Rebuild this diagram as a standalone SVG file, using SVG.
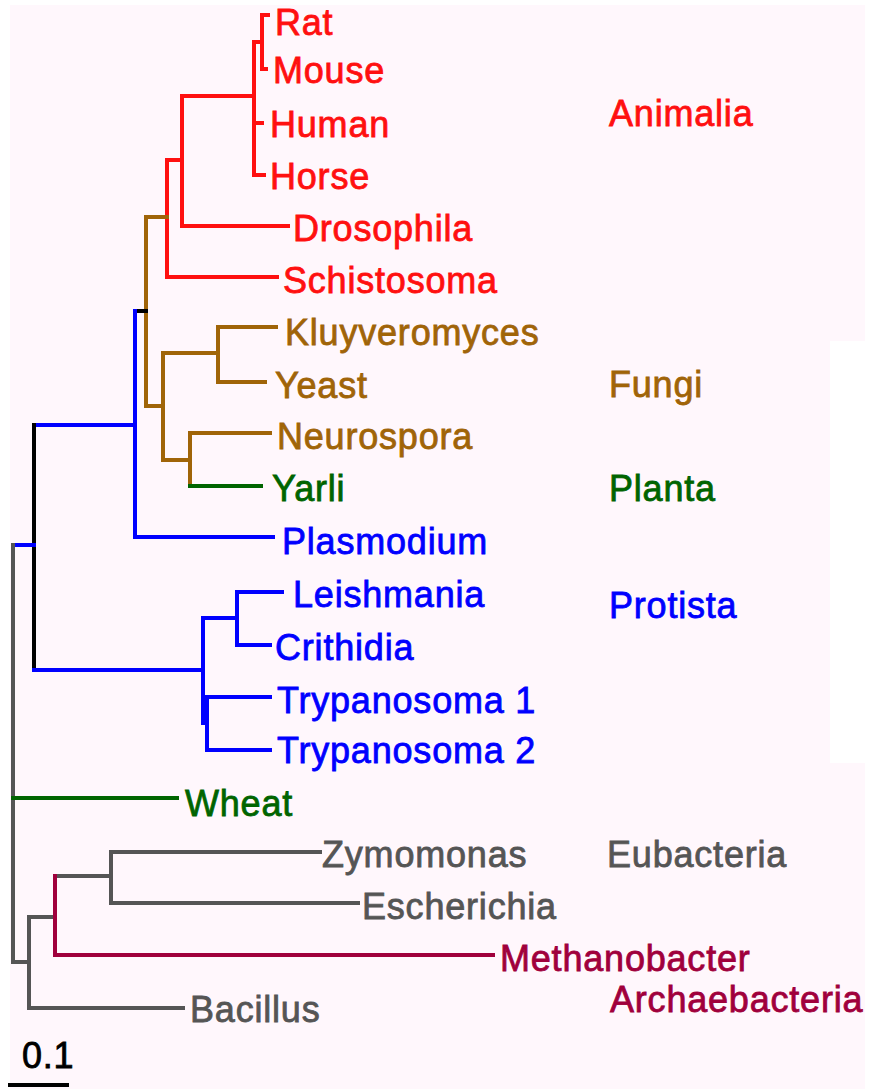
<svg xmlns="http://www.w3.org/2000/svg" width="873" height="1089" viewBox="0 0 873 1089">
<style>
text{font-family:"Liberation Sans",Arial,sans-serif;font-size:36px;letter-spacing:0.8px;stroke-width:0.8px}
.e{fill:none;stroke-width:4;stroke-linecap:square;stroke-linejoin:miter}
.r{stroke:#ff1010}.b{stroke:#a06408}.g{stroke:#006400}.u{stroke:#0000ff}.k{stroke:#000}.y{stroke:#555}.m{stroke:#a0003c}
.tr{fill:#ff1010;stroke:#ff1010}.tb{fill:#a06408;stroke:#a06408}.tg{fill:#006400;stroke:#006400}.tu{fill:#0000ff;stroke:#0000ff}.ty{fill:#555;stroke:#555}.tm{fill:#a0003c;stroke:#a0003c}.tk{fill:#000;stroke:#000}
</style>
<rect x="0" y="0" width="873" height="1089" fill="#fff"/>
<rect x="10" y="5" width="855" height="1084" fill="#fff7fc"/>
<rect x="830" y="341" width="43" height="422" fill="#fff"/>
<g id="connectors">
<path class="e r" d="M268 15H262V69H266M262 42H254M254 42V175M254 123H262M254 175H264M254 96H182V226H288M182 160H167V277H277"/>
<path class="e b" d="M167 217H146V406H163M163 353V460H190M163 353H218M276 327H218V382H265M270 433H190V486"/>
<path class="e g" d="M190 486H261"/>
<path class="e k" d="M146 311H135"/>
<path class="e u" d="M135 311V537H273M135 425H34"/>
<path class="e k" d="M34 425V670"/>
<path class="e u" d="M34 670H203M203 618V723H207M203 618H237M282 592H237V645H270M270 697H207V750H270M13 545H34"/>
<path class="e y" d="M13 545V962H29M54 917H29V1008H183M55 876H111M320 852H111V903H358"/>
<path class="e g" d="M13 798H177"/>
<path class="e m" d="M55 876V955H493"/>
<path class="e k" d="M10 1085H67" stroke-linecap="butt"/>
</g>
<g id="rat"><text class="tr" x="275" y="35">Rat</text></g>
<g id="mouse"><text class="tr" x="273" y="83">Mouse</text></g>
<g id="human"><text class="tr" x="270" y="137">Human</text></g>
<g id="horse"><text class="tr" x="270" y="189">Horse</text></g>
<g id="drosophila"><text class="tr" x="293" y="241">Drosophila</text></g>
<g id="schistosoma"><text class="tr" x="283" y="293">Schistosoma</text></g>
<g id="kluyveromyces"><text class="tb" x="285" y="345">Kluyveromyces</text></g>
<g id="yeast"><text class="tb" x="275" y="398">Yeast</text></g>
<g id="neurospora"><text class="tb" x="277" y="449">Neurospora</text></g>
<g id="yarli"><text class="tg" x="272" y="501">Yarli</text></g>
<g id="plasmodium"><text class="tu" x="282" y="554">Plasmodium</text></g>
<g id="leishmania"><text class="tu" x="293" y="607">Leishmania</text></g>
<g id="crithidia"><text class="tu" x="275" y="660">Crithidia</text></g>
<g id="trypanosoma1"><text class="tu" x="277" y="713">Trypanosoma 1</text></g>
<g id="trypanosoma2"><text class="tu" x="277" y="763">Trypanosoma 2</text></g>
<g id="wheat"><text class="tg" x="185" y="816">Wheat</text></g>
<g id="zymomonas"><text class="ty" x="322" y="867">Zymomonas</text></g>
<g id="escherichia"><text class="ty" x="362" y="919">Escherichia</text></g>
<g id="methanobacter"><text class="tm" x="500" y="971">Methanobacter</text></g>
<g id="bacillus"><text class="ty" x="190" y="1022">Bacillus</text></g>
<g id="animalia"><text class="tr" x="609" y="126">Animalia</text></g>
<g id="fungi"><text class="tb" x="609" y="397">Fungi</text></g>
<g id="planta"><text class="tg" x="609" y="501">Planta</text></g>
<g id="protista"><text class="tu" x="609" y="618">Protista</text></g>
<g id="eubacteria"><text class="ty" x="607" y="867">Eubacteria</text></g>
<g id="archaebacteria"><text class="tm" x="610" y="1012">Archaebacteria</text></g>
<g id="scale"><text class="tk" x="22" y="1068">0.1</text></g>
</svg>
